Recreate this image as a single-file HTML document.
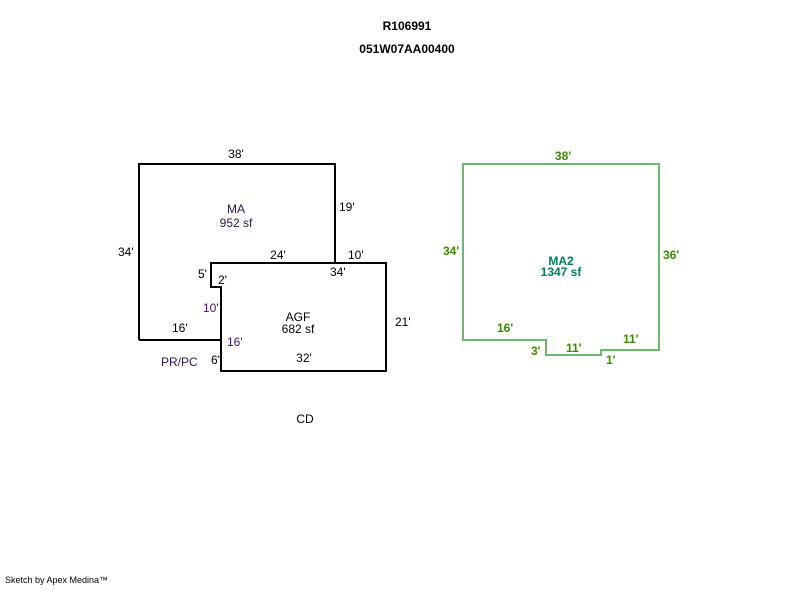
<!DOCTYPE html>
<html><head><style>
body{margin:0;background:#fff;width:800px;height:587px;overflow:hidden}
svg text{font-family:"Liberation Sans",sans-serif;font-size:12px}
</style></head><body>
<svg width="800" height="587" xmlns="http://www.w3.org/2000/svg">
<text x="407" y="30" text-anchor="middle" font-weight="bold" fill="#000">R106991</text>
<text x="407" y="53" text-anchor="middle" font-weight="bold" fill="#000">051W07AA00400</text>
<g fill="none" stroke="#000" stroke-width="2">
<path d="M139,340 L139,164 L335,164 L335,263"/>
<path d="M139,340 L221,340"/>
<path d="M211,263 L386,263 L386,371 L221,371 L221,287 L211,287 Z"/>
</g>
<g fill="#000">
<text x="236" y="158" text-anchor="middle">38'</text>
<text x="339" y="211">19'</text>
<text x="118" y="256">34'</text>
<text x="278" y="259" text-anchor="middle">24'</text>
<text x="348" y="259">10'</text>
<text x="330" y="276">34'</text>
<text x="395" y="326">21'</text>
<text x="304" y="362" text-anchor="middle">32'</text>
<text x="236" y="213" text-anchor="middle" fill="#301050">MA</text>
<text x="236" y="227" text-anchor="middle" fill="#301050">952 sf</text>
<text x="298" y="321" text-anchor="middle">AGF</text>
<text x="298" y="333" text-anchor="middle">682 sf</text>
<text x="198" y="278">5'</text>
<text x="218" y="284">2'</text>
<text x="203" y="312" fill="#401070">10'</text>
<text x="172" y="332">16'</text>
<text x="227" y="346" fill="#401070">16'</text>
<text x="211" y="364">6'</text>
<text x="161" y="366" fill="#301060">PR/PC</text>
<text x="305" y="423" text-anchor="middle">CD</text>
</g>
<path d="M463,340 L463,164 L659,164 L659,350 L601,350 L601,355 L546,355 L546,340 Z" fill="none" stroke="#6db86d" stroke-width="2"/>
<g fill="#3a8a00" font-weight="bold">
<text x="563" y="160" text-anchor="middle">38'</text>
<text x="443" y="255">34'</text>
<text x="663" y="259">36'</text>
<text x="497" y="332">16'</text>
<text x="531" y="355">3'</text>
<text x="566" y="352">11'</text>
<text x="623" y="343">11'</text>
<text x="606" y="364">1'</text>
<text x="561" y="265" text-anchor="middle" fill="#007a5a">MA2</text>
<text x="561" y="276" text-anchor="middle" fill="#007a5a">1347 sf</text>
</g>
<text x="5" y="583" style="font-size:9px" fill="#000">Sketch by Apex Medina™</text>
</svg>
</body></html>
